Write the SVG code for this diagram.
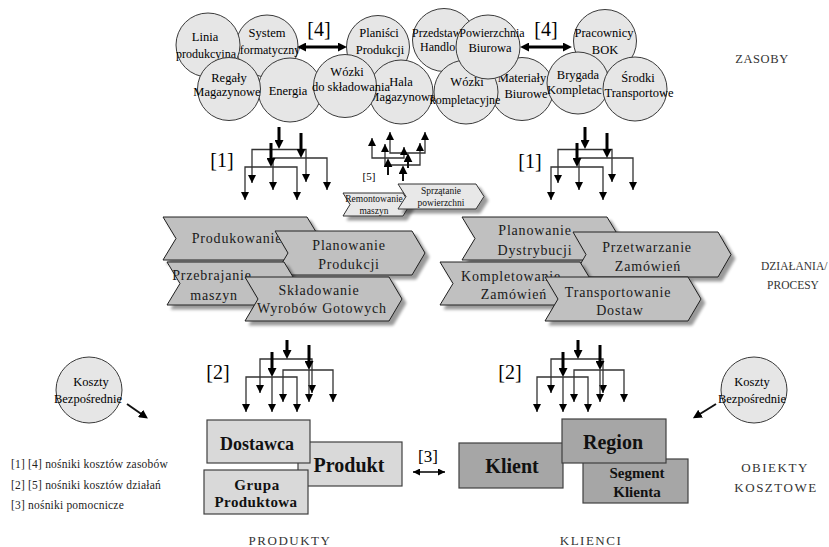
<svg xmlns="http://www.w3.org/2000/svg" width="829" height="547" viewBox="0 0 829 547">
<defs>
<style>
text{font-family:"Liberation Serif","Times New Roman",serif;fill:#000}
.ct{font-size:12.5px;text-anchor:middle}
.cs{font-size:12px}
.circ{fill:#e6e6e6;stroke:#3a3a3a;stroke-width:1}
.chev{fill:#c0c0c0;stroke:#1e1e1e;stroke-width:1;filter:url(#sh)}
.chs{fill:#e8e8e8;stroke:#333;stroke-width:1;filter:url(#sh)}
.chT{font-size:14px;letter-spacing:0.8px;text-anchor:middle;fill:#1a1a1a}
.chS{font-size:9.5px;text-anchor:middle;fill:#111}
.lbl{font-size:20px;text-anchor:middle}
.side{font-size:13px;letter-spacing:1.5px;fill:#333}
.side2{font-size:11.5px;fill:#333}
.leg{font-size:11.5px;letter-spacing:0.2px;fill:#222}
.bl{fill:#d9d9d9;stroke:#404040;stroke-width:1.2}
.bd{fill:#a6a6a6;stroke:#404040;stroke-width:1.2}
.bt{font-weight:bold;text-anchor:middle;fill:#111}
.thin{fill:none;stroke:#333;stroke-width:1.3;marker-start:url(#a);marker-end:url(#a)}
.one{fill:none;stroke:#333;stroke-width:1.3;marker-end:url(#a)}
.thk{fill:none;stroke:#000;stroke-width:3;marker-end:url(#at)}
.med{fill:none;stroke:#111;stroke-width:2;marker-end:url(#at)}
.dbl{fill:none;stroke:#000;stroke-width:3.2;marker-start:url(#at);marker-end:url(#at)}
</style>
<marker id="a" viewBox="0 0 10 10" refX="10" refY="5" markerWidth="8" markerHeight="8" markerUnits="userSpaceOnUse" orient="auto-start-reverse"><path d="M0,0 L10,5 L0,10 z" fill="#000"/></marker>
<marker id="at" viewBox="0 0 10 10" refX="4" refY="5" markerWidth="9" markerHeight="9" markerUnits="userSpaceOnUse" orient="auto-start-reverse"><path d="M0,0 L10,5 L0,10 z" fill="#000"/></marker>
<marker id="as" viewBox="0 0 10 10" refX="10" refY="5" markerWidth="7" markerHeight="7" markerUnits="userSpaceOnUse" orient="auto-start-reverse"><path d="M0,0 L10,5 L0,10 z" fill="#000"/></marker>
<filter id="sh" x="-10%" y="-15%" width="130%" height="150%">
<feGaussianBlur in="SourceAlpha" stdDeviation="1.8"/>
<feOffset dx="4" dy="4"/>
<feComponentTransfer><feFuncA type="linear" slope="0.4"/></feComponentTransfer>
<feMerge><feMergeNode/><feMergeNode in="SourceGraphic"/></feMerge>
</filter>
</defs>
<rect width="829" height="547" fill="#fff"/>

<!-- resource circles -->
<g id="system"><circle class="circ" cx="267" cy="46" r="31"/><text class="ct" x="267" y="37">System</text><text class="ct" x="265" y="54" style="font-size:12px">Informatyczny</text></g>
<g id="linia"><circle class="circ" cx="208" cy="45" r="32"/><text class="ct" x="205" y="41">Linia</text><text class="ct" x="206" y="58" style="font-size:12px">produkcyjna</text></g>
<g id="energia"><circle class="circ" cx="290" cy="90" r="32"/><text class="ct" x="288" y="94.5">Energia</text></g>
<g id="regaly"><circle class="circ" cx="229" cy="89" r="31.5"/><text class="ct" x="229" y="82">Regały</text><text class="ct" x="227" y="96">Magazynowe</text></g>
<g id="planisci"><circle class="circ" cx="378" cy="47" r="31.5"/><text class="ct" x="379" y="37">Planiści</text><text class="ct" x="380" y="54">Produkcji</text></g>
<g id="hala"><circle class="circ" cx="401" cy="92" r="32"/><text class="ct" x="401" y="86">Hala</text><text class="ct" x="402" y="101">Magazynowa</text></g>
<g id="wozki-skl"><circle class="circ" cx="345" cy="86" r="31.5"/><text class="ct" x="347" y="76">Wózki</text><text class="ct" x="351" y="91">do składowania</text></g>
<g id="przedstawiciele"><circle class="circ" cx="444" cy="40" r="31.5"/><text class="cs" x="412" y="37">Przedstaw</text><text class="cs" x="420" y="51">Handlo</text></g>
<g id="materialy"><circle class="circ" cx="522" cy="89" r="31.5"/><text class="ct" x="522" y="82">Materiały</text><text class="ct" x="526" y="97.5">Biurowe</text></g>
<g id="wozki-kompl"><circle class="circ" cx="466" cy="92" r="32"/><text class="ct" x="467" y="86">Wózki</text><text class="ct" x="465" y="104" style="font-size:12px">kompletacyjne</text></g>
<g id="powierzchnia"><circle class="circ" cx="488" cy="47" r="32"/><text class="ct" x="492" y="37" style="font-size:12px">Powierzchnia</text><text class="ct" x="490" y="52">Biurowa</text></g>
<g id="pracownicy"><circle class="circ" cx="605" cy="41" r="31.5"/><text class="ct" x="604" y="37">Pracownicy</text><text class="ct" x="605" y="54">BOK</text></g>
<g id="brygada"><circle class="circ" cx="578" cy="83" r="31"/><text class="ct" x="578" y="79">Brygada</text><text class="cs" x="547" y="94" style="font-size:12.5px">Kompletac</text></g>
<g id="srodki"><circle class="circ" cx="635" cy="89" r="32"/><text class="ct" x="638" y="82">Środki</text><text class="ct" x="639" y="97">Transportowe</text></g>

<!-- small activity chevrons -->
<g id="remontowanie"><polygon class="chs" points="343,193 403,193 410,204.5 403,216 343,216 350,204.5"/><text class="chS" x="374" y="202">Remontowanie</text><text class="chS" x="374" y="214">maszyn</text></g>
<g id="sprzatanie"><polygon class="chs" points="398,184 476,184 484,196.5 476,209 398,209 406,196.5"/><text class="chS" x="441" y="194">Sprzątanie</text><text class="chS" x="441" y="206">powierzchni</text></g>

<!-- activity chevrons -->
<g id="produkowanie"><polygon class="chev" points="163,217 307,217 320,238.5 307,260 163,260 176,238.5"/><text class="chT" x="237" y="243">Produkowanie</text></g>
<g id="planowanie-produkcji"><polygon class="chev" points="275,231 412,231 425,253 412,275 275,275 288,253"/><text class="chT" x="349" y="250">Planowanie</text><text class="chT" x="349" y="269">Produkcji</text></g>
<g id="przebrajanie"><polygon class="chev" points="167,262 284,262 297,283.5 284,305 167,305 180,283.5"/><text class="chT" x="212" y="280">Przebrajanie</text><text class="chT" x="214" y="300">maszyn</text></g>
<g id="skladowanie"><polygon class="chev" points="245,277 389,277 402,299 389,321 245,321 258,299"/><text class="chT" x="319" y="295">Składowanie</text><text class="chT" x="322" y="313">Wyrobów Gotowych</text></g>
<g id="planowanie-dystrybucji"><polygon class="chev" points="462,217 607,217 620,238.5 607,260 462,260 475,238.5"/><text class="chT" x="535" y="235">Planowanie</text><text class="chT" x="535" y="255">Dystrybucji</text></g>
<g id="przetwarzanie"><polygon class="chev" points="573,232 718,232 731,254.5 718,277 573,277 586,254.5"/><text class="chT" x="647" y="252">Przetwarzanie</text><text class="chT" x="648" y="271">Zamówień</text></g>
<g id="kompletowanie"><polygon class="chev" points="440,262 580,262 593,283.5 580,305 440,305 453,283.5"/><text class="chT" x="511" y="281">Kompletowanie</text><text class="chT" x="514" y="299">Zamówień</text></g>
<g id="transportowanie"><polygon class="chev" points="545,277 688,277 701,299 688,321 545,321 558,299"/><text class="chT" x="618" y="297">Transportowanie</text><text class="chT" x="620" y="315">Dostaw</text></g>

<!-- cost object boxes -->
<g id="produkt"><rect class="bl" x="298" y="442" width="104" height="44"/><text class="bt" x="349" y="472" font-size="20">Produkt</text></g>
<g id="dostawca"><rect class="bl" x="207" y="420" width="103" height="43"/><text class="bt" x="257" y="450" font-size="18">Dostawca</text></g>
<g id="grupa"><rect class="bl" x="204" y="470" width="104" height="44"/><text class="bt" x="257" y="490" font-size="15" letter-spacing="0.6">Grupa</text><text class="bt" x="256" y="507" font-size="15" letter-spacing="0.4">Produktowa</text></g>
<g id="klient"><rect class="bd" x="459" y="443" width="104" height="45"/><text class="bt" x="512" y="473" font-size="20">Klient</text></g>
<g id="segment"><rect class="bd" x="583" y="459" width="105" height="44"/><text class="bt" x="637" y="478" font-size="15">Segment</text><text class="bt" x="637" y="497" font-size="15">Klienta</text></g>
<g id="region"><rect class="bd" x="562" y="419" width="104" height="44"/><text class="bt" x="613" y="449" font-size="20">Region</text></g>

<!-- direct costs -->
<g id="koszty-lewe"><circle class="circ" cx="89" cy="390" r="33"/><text class="ct" x="91" y="386">Koszty</text><text class="ct" x="88" y="403">Bezpośrednie</text></g>
<g id="koszty-prawe"><circle class="circ" cx="754" cy="390" r="33"/><text class="ct" x="752" y="386">Koszty</text><text class="ct" x="752" y="403">Bezpośrednie</text></g>

<!-- connectors -->
<g id="connectors">
<path class="dbl" d="M302.5,47 H341.5"/>
<path class="dbl" d="M525.5,47 H566.5"/>
<!-- [1] left -->
<path class="thin" d="M252,183 V149.5 H306 V182"/>
<path class="thin" d="M273,190 V158 H327 V190"/>
<path class="thin" d="M245,200 V167 H297 V200"/>
<path class="thk" d="M279,127 V143.6"/>
<path class="thk" d="M301,133 V152.6"/>
<path class="thk" d="M271,143 V161.6"/>
<!-- [1] right -->
<path class="thin" d="M558,183 V149.5 H612 V182"/>
<path class="thin" d="M579,190 V158 H633 V190"/>
<path class="thin" d="M551,200 V167 H603 V200"/>
<path class="thk" d="M585,127 V143.6"/>
<path class="thk" d="M607,133 V152.6"/>
<path class="thk" d="M577,143 V161.6"/>
<!-- [5] up -->
<path class="thin" d="M390,132 V153 H425 V132"/>
<path class="thin" d="M372,138 V158 H404 V147"/>
<path class="thin" d="M385,144 V165 H420 V143"/>
<path class="med" d="M408,168 V158.6"/>
<path class="med" d="M388,175 V163.6"/>
<path class="med" d="M403,181 V170.6"/>
<!-- [2] left -->
<path class="thin" d="M260,393 V359 H312 V393"/>
<path class="thin" d="M283,402 V370 H333 V402"/>
<path class="thin" d="M246,412 V377 H297 V412"/>
<path class="thk" d="M287,340 V353.6"/>
<path class="thk" d="M309,345 V364.6"/>
<path class="thk" d="M272,352 V371.6"/>
<path class="one" d="M309,370 V402"/>
<path class="one" d="M272,377 V412"/>
<!-- [2] right -->
<path class="thin" d="M551,393 V359 H603 V393"/>
<path class="thin" d="M574,402 V370 H624 V402"/>
<path class="thin" d="M537,412 V377 H588 V412"/>
<path class="thk" d="M578,340 V353.6"/>
<path class="thk" d="M600,345 V364.6"/>
<path class="thk" d="M563,352 V371.6"/>
<path class="one" d="M600,370 V402"/>
<path class="one" d="M563,377 V412"/>
<!-- [3] -->
<path d="M413,472 H445" fill="none" stroke="#000" stroke-width="1.5" marker-start="url(#as)" marker-end="url(#as)"/>
<!-- direct cost arrows -->
<path class="med" d="M127,404 L143.5,415.5"/>
<path class="med" d="M716,404 L697.5,415.5"/>
</g>

<!-- labels -->
<g id="labels">
<text class="lbl" x="319" y="36">[4]</text>
<text class="lbl" x="546" y="36">[4]</text>
<text class="lbl" x="222" y="167">[1]</text>
<text class="lbl" x="530" y="168">[1]</text>
<text x="369" y="180" font-size="11" text-anchor="middle">[5]</text>
<text class="lbl" x="218" y="379">[2]</text>
<text class="lbl" x="510" y="379">[2]</text>
<text x="428" y="462" font-size="17" text-anchor="middle">[3]</text>
<text class="side2" x="762" y="63" text-anchor="middle" style="font-size:12.5px;letter-spacing:0.6px">ZASOBY</text>
<text class="side2" x="761" y="270">DZIAŁANIA/</text>
<text class="side2" x="793" y="289" text-anchor="middle">PROCESY</text>
<text class="side" x="775" y="472" text-anchor="middle">OBIEKTY</text>
<text class="side" x="776" y="492" text-anchor="middle">KOSZTOWE</text>
<text class="side" x="290" y="545" text-anchor="middle">PRODUKTY</text>
<text class="side" x="591" y="545" text-anchor="middle">KLIENCI</text>
<text class="leg" x="11" y="468">[1] [4] nośniki kosztów zasobów</text>
<text class="leg" x="11" y="489">[2] [5] nośniki kosztów działań</text>
<text class="leg" x="11" y="509">[3]  nośniki pomocnicze</text>
</g>
</svg>
